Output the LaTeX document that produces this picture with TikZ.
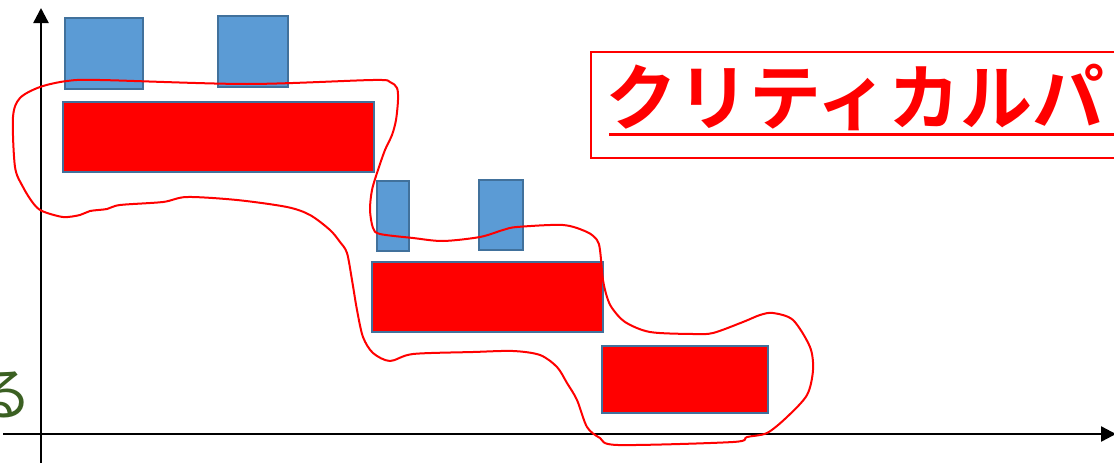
\documentclass[tikz,border=0pt]{standalone}
\usepackage{fontspec}
\newfontfamily\jpfont{Noto Sans CJK JP}
\newfontfamily\jpbold{Noto Sans CJK JP Bold}
\usetikzlibrary{arrows.meta}
\definecolor{boxblue}{HTML}{5B9BD5}
\definecolor{boxedge}{HTML}{41719C}
\definecolor{textgreen}{HTML}{3B6022}
\tikzset{
  bluebox/.style={draw=boxedge, fill=boxblue, line width=2pt, inner sep=0pt},
  redbox/.style={draw=boxedge, fill=red, line width=2pt, inner sep=0pt},
  axisline/.style={line width=2.4pt, black, -{Triangle[length=15pt,width=15pt]}},
  pathloop/.style={draw=red, line width=2pt, line join=round}
}
\begin{document}
\begin{tikzpicture}[x=1pt,y=-1pt]
\useasboundingbox (0,0) rectangle (1114,463);
\clip (0,0) rectangle (1114,463);
\fill[white] (0,0) rectangle (1114,463);
% axes
\coordinate (ybot) at (41,463);
\coordinate (ytop) at (41,8);
\coordinate (xl) at (3,434);
\coordinate (xr) at (1116,434);
\draw[axisline] (ybot) -- (ytop);
\draw[axisline] (xl) -- (xr);
% left clipped text
\node[anchor=east, inner sep=0pt, text=textgreen, font=\jpfont\fontsize{58}{60}\selectfont] (ru) at (33,395) {る};
% boxes
\node[bluebox, minimum width=78pt, minimum height=71pt] (b1) at (104,53.5) {};
\node[bluebox, minimum width=70pt, minimum height=71pt] (b2) at (253,51.5) {};
\node[redbox, minimum width=311pt, minimum height=70pt] (r1) at (218.5,137) {};
\node[bluebox, minimum width=32pt, minimum height=70pt] (b3) at (393,216) {};
\node[bluebox, minimum width=44pt, minimum height=70pt] (b4) at (501,215) {};
\node[redbox, minimum width=231pt, minimum height=70pt] (r2) at (487.5,297) {};
\node[redbox, minimum width=166pt, minimum height=67pt] (r3) at (685,379.5) {};
% title
\draw[red, line width=2pt] (591,52) rectangle (1140,158);
\node[anchor=west, inner sep=0pt, text=red, font=\jpbold\fontsize{72}{80}\selectfont] (title) at (605,97) {クリティカルパ};
\coordinate (ulstart) at (609,134);
\coordinate (ulend) at (1140,134);
\draw[red, line width=3pt] (ulstart) -- (ulend);
% freehand loop
\draw[pathloop] plot[smooth cycle, tension=0.5] coordinates {
(67,81) (100,80) (247,84) (373,80) (390,82) (397,88) (398,100) (396,120) (392,135) (385,150) (378,170) (372,190) (370,210) (373,228) (380,234) (413,238) (443,241) (480,237) (503,230) (517,227) (563,225) (587,232) (597,240) (600,250) (603,280) (607,297) (612,308) (625,322) (650,332) (693,334) (713,333) (743,322) (760,315) (773,313) (793,320) (810,347) (813,370) (807,395) (787,417) (767,433) (747,437) (733,442) (618,445) (600,438) (587,427) (577,400) (567,383) (557,367) (540,355) (513,351) (473,352) (413,354) (390,361) (373,353) (363,337) (357,310) (352,280) (347,253) (340,242) (330,230) (310,215) (287,207) (237,200) (187,197) (163,202) (120,205) (107,209) (90,211) (80,215) (63,217) (42,211) (33,203) (23,187) (15,167) (13,117) (20,98) (40,87)
};
\end{tikzpicture}
\end{document}
